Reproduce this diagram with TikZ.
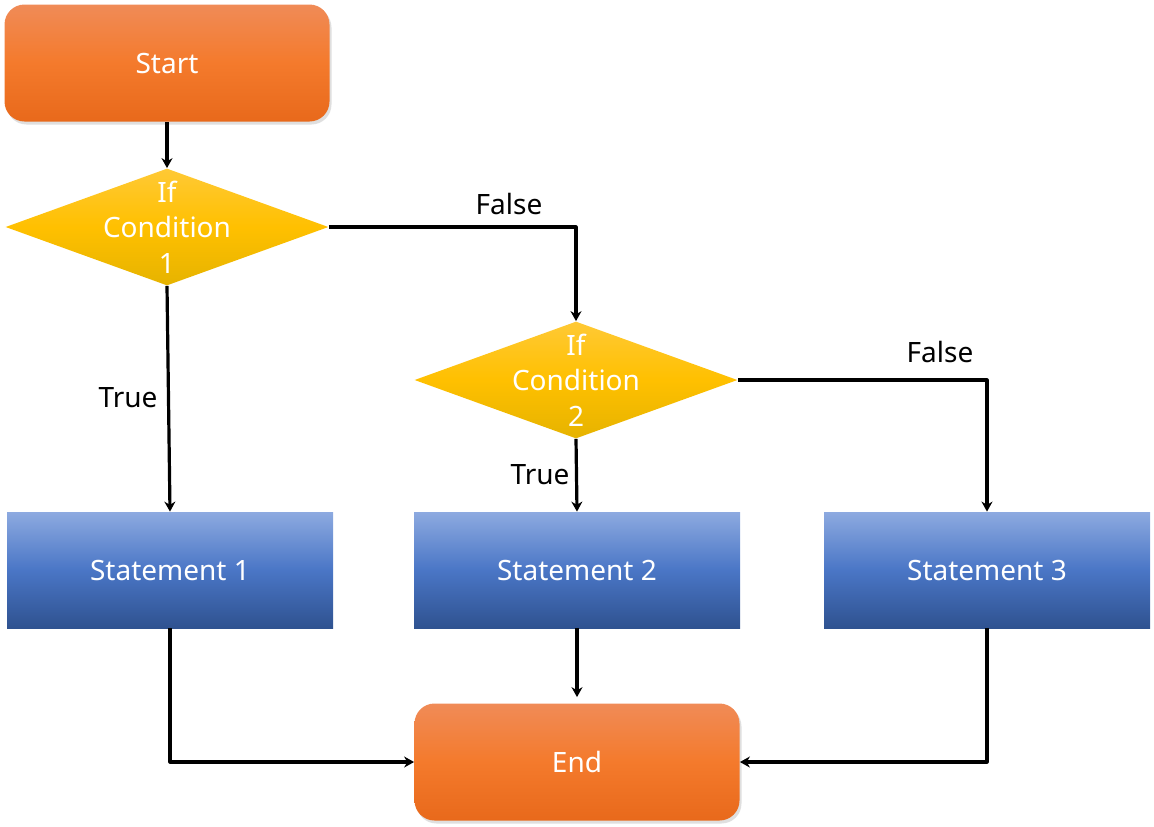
\documentclass[tikz,border=0pt]{standalone}
\usepackage{fontspec}
\setmainfont{Noto Sans}
\usetikzlibrary{shapes.geometric,shadows,positioning,arrows.meta}
\definecolor{termtop}{HTML}{F08B57}
\definecolor{termmid}{HTML}{F47A2C}
\definecolor{termbot}{HTML}{E8691B}
\definecolor{condtop}{HTML}{FFC935}
\definecolor{condmid}{HTML}{FFC000}
\definecolor{condbot}{HTML}{E6B300}
\definecolor{stmttop}{HTML}{8DAAE0}
\definecolor{stmtmid}{HTML}{4A76C6}
\definecolor{stmtbot}{HTML}{2F5290}
\begin{document}
\begin{tikzpicture}[x=0.5pt,y=-0.5pt,>={Stealth[length=5pt,width=5.5pt]},
    font=\fontsize{14}{17.75}\selectfont, line join=round,
    terminal/.style={rectangle, rounded corners=10pt, minimum width=162.5pt, minimum height=58.5pt,
      top color=termtop, bottom color=termbot, middle color=termmid, text=white,
      drop shadow={opacity=0.25, shadow xshift=1pt, shadow yshift=-1.5pt}},
    decision/.style={diamond, inner sep=0pt, minimum width=161.5pt, minimum height=58.5pt,
      top color=condtop, bottom color=condbot, middle color=condmid},
    condtext/.style={text=white, align=center, inner sep=0pt},
    statement/.style={rectangle, minimum width=163pt, minimum height=58pt,
      top color=stmttop, bottom color=stmtbot, middle color=stmtmid, text=white},
    flow/.style={->, line width=1.6pt},
    tag/.style={text=black}]
  \useasboundingbox (0,0) rectangle (1154,826);
  % Nodes
  \node[terminal] (start) at (167,63) {Start};
  \node[decision] (cond1) at (167,227) {};
  \node[condtext] (cond1txt) at (cond1) {If\\Condition\\1};
  \node[decision] (cond2) at (576,380) {};
  \node[condtext] (cond2txt) at (cond2) {If\\Condition\\2};
  \node[statement] (stmt1) at (170,570) {Statement 1};
  \node[statement] (stmt2) at (577,570) {Statement 2};
  \node[statement] (stmt3) at (987,570) {Statement 3};
  \node[terminal] (end) at (577,762) {End};
  % Connectors
  \draw[flow] (start) -- (cond1);
  \draw[flow] (cond1.east) -| (cond2.north);
  \draw[flow] (cond1.south) -- (stmt1.north);
  \draw[flow] (cond2.south) -- (stmt2.north);
  \draw[flow] (cond2.east) -| (stmt3.north);
  \draw[flow] (stmt1.south) |- (end.west);
  \draw[flow, shorten >=3pt] (stmt2.south) -- (end.north);
  \draw[flow] (stmt3.south) |- (end.east);
  % Labels
  \node[tag] (false1) at (509,204) {False};
  \node[tag] (true1) at (128,398) {True};
  \node[tag] (true2) at (540,475) {True};
  \node[tag] (false2) at (940,352) {False};
\end{tikzpicture}
\end{document}
